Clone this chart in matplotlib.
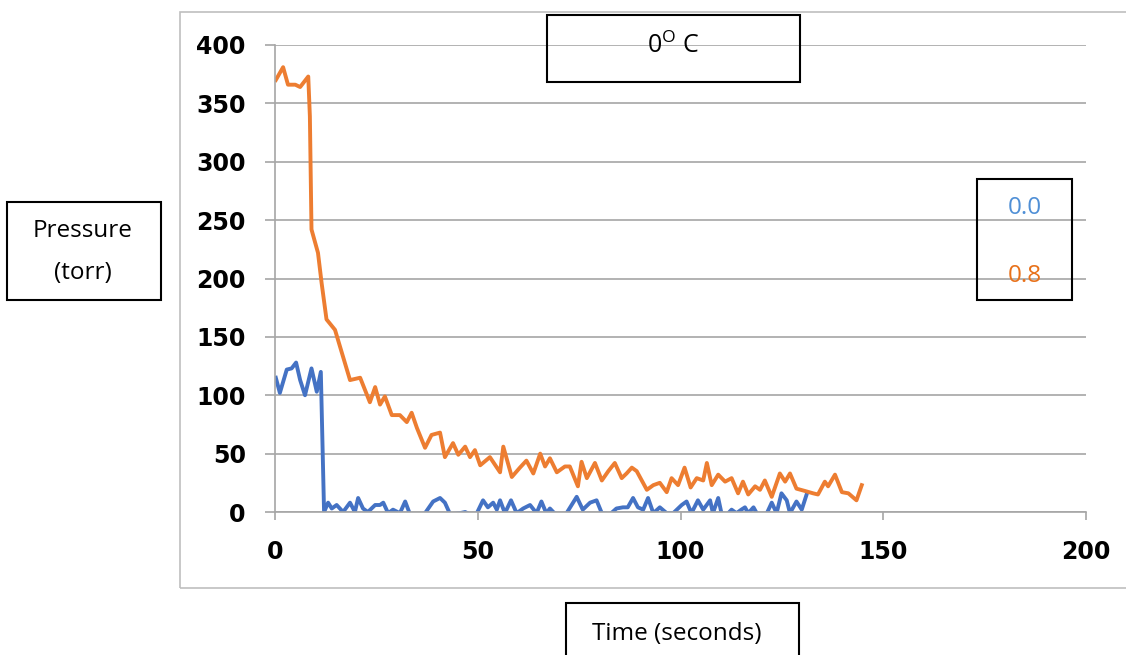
import matplotlib
matplotlib.use("Agg")
import matplotlib.pyplot as plt
from matplotlib.patches import Rectangle

plt.rcParams['font.family'] = ['Open Sans', 'DejaVu Sans']
plt.rcParams['mathtext.fontset'] = 'custom'
plt.rcParams['mathtext.rm'] = 'Open Sans'

# orange series (0.8)
t_orange = [0.2, 2, 3.2, 5, 6.2, 8.2, 8.6, 9, 10.6, 11.5, 12.7, 14.8, 18.5, 21, 23.4, 24.7,
            25.9, 27.1, 28.8, 30.8, 32.5, 33.7, 35, 37, 38.6, 40.7, 41.9, 43.9, 45.2, 46.9,
            48.1, 49.3, 50.6, 53, 55.5, 56.3, 58.4, 60.4, 62, 63.7, 65.4, 66.6, 67.8, 69.5,
            71.5, 72.7, 74.7, 75.6, 76.9, 78.9, 80.6, 82.2, 83.8, 85.5, 86.7, 88, 89.2, 91.7,
            93.3, 94.9, 96.6, 97.8, 99.4, 101, 102.5, 104, 105.6, 106.5, 107.7, 109.3, 111,
            112.6, 114.2, 115.4, 116.7, 118.4, 119.6, 120.8, 122.5, 124.5, 125.8, 127, 128.6,
            130.7, 132.7, 133.9, 135.6, 136.4, 138.1, 139.8, 141.4, 143.4, 144.7]
p_orange = [370, 381, 366, 366, 364, 373, 339, 242, 222, 196, 165, 156, 113, 115, 94, 107,
            92, 99, 83, 83, 77, 85, 72, 55, 66, 68, 47, 59, 49, 56,
            47, 53, 40, 47, 34, 56, 30, 38, 44, 33, 50, 39, 46, 34,
            39, 39, 22, 43, 29, 42, 27, 35, 42, 29, 33, 38, 35, 19,
            23, 25, 17, 29, 23, 38, 21, 29, 27, 42, 23, 32, 26,
            29, 16, 26, 15, 22, 19, 27, 13, 33, 26, 33, 20,
            18, 16, 15, 26, 22, 32, 17, 16, 10, 23]

# blue series (0.0)
t_blue = [0.2, 1.2, 2.9, 4.1, 5.2, 6.2, 7.4, 9, 10.3, 11.3, 12.1, 13.1, 14, 15.2, 16.8, 18.5,
          19.7, 20.5, 21.7, 22.9, 24.7, 25.9, 26.7, 27.9, 29.1, 30.8, 32.1, 33.3, 35, 37,
          39, 40.7, 41.9, 43.2, 45.6, 46.9, 48, 49.5, 51.3, 52.5, 53.8, 54.7, 55.5, 56.7,
          58.2, 59.6, 61.2, 62.9, 64.5, 65.7, 66.9, 67.8, 68.9, 70.5, 71.9, 74.4, 75.9,
          77.7, 79.3, 80.6, 82.6, 84.2, 85.8, 87, 88.3, 89.5, 90.8, 92, 93.3, 94.9, 96.6,
          98.2, 100.3, 101.5, 102.7, 104.3, 105.6, 107.3, 108, 109.3, 110.1, 111.5, 112.6,
          113.8, 115, 115.9, 116.7, 118, 118.8, 120, 121.3, 122.5, 123.7, 124.9, 126.2,
          127, 128.6, 129.9, 131.1]
p_blue = [115, 102, 122, 123, 128, 113, 100, 123, 103, 120, 0, 8, 3, 6, 0, 8,
          0, 12, 3, 0, 6, 6, 8, -1, 2, -1, 9, -2, -4, -1,
          9, 12, 8, -2, -1, 0, -2, -3, 10, 4, 8, 2, 10, -1,
          10, -1, 3, 6, -1, 9, -1, 3, -1, -3, -1, 13, 2,
          8, 10, -1, -2, 3, 4, 4, 12, 4, 2, 12, -1, 4, -1,
          -1, 6, 9, -1, 10, 2, 10, -1, 12, -1, -2, 2,
          -1, 2, 4, -1, 4, -1, -3, -1, 8, -1, 16, 10,
          -1, 9, 2, 15]

x_ticks = [0, 50, 100, 150, 200]
y_ticks = [0, 50, 100, 150, 200, 250, 300, 350, 400]

W, H = 1126, 655
fig = plt.figure(figsize=(W / 100, H / 100), dpi=100)


def box(x0, y0, x1, y1, color='black', lw=1.5):
    r = Rectangle((x0 / W, 1 - y1 / H), (x1 - x0) / W, (y1 - y0) / H,
                  transform=fig.transFigure, fill=False, edgecolor=color, linewidth=lw)
    fig.add_artist(r)


def label(x, y, s, **kw):
    fig.text(x / W, 1 - y / H, s, ha='center', va='center', **kw)


# outer chart border
box(180, 12, 1130, 588, color='#bfbfbf', lw=1.2)

ax = fig.add_axes([275 / W, 1 - 512 / H, 811 / W, 467 / H])
grid_c = '#a6a6a6'
ax.plot(t_blue, p_blue, color='#4472C4', lw=2.8, solid_joinstyle='round')
ax.plot(t_orange, p_orange, color='#ED7D31', lw=2.8, solid_joinstyle='round')
ax.set_xlim(0, 200)
ax.set_ylim(0, 400)
ax.set_xticks(x_ticks)
ax.set_yticks(y_ticks)
ax.grid(axis='y', color=grid_c, lw=1.2)
ax.set_axisbelow(True)
for s in ['top', 'right']:
    ax.spines[s].set_visible(False)
for s in ['left', 'bottom']:
    ax.spines[s].set_color(grid_c)
    ax.spines[s].set_linewidth(1.2)
ax.tick_params(axis='y', direction='out', length=7, width=1.2, color=grid_c, pad=14)
ax.tick_params(axis='x', direction='out', length=6, width=1.2, color=grid_c, pad=14)
for lab in ax.get_xticklabels() + ax.get_yticklabels():
    lab.set_fontsize(17)
    lab.set_fontweight('bold')
    lab.set_family('DejaVu Sans')

# title box
box(547, 15, 800, 82)
label(673, 46, '0$^{\\mathregular{O}}$ C', fontsize=18)

# y label box
box(7, 202, 161, 300)
label(83, 231, 'Pressure', fontsize=17.5)
label(83, 273, '(torr)', fontsize=17.5)

# legend box
box(977, 179, 1072, 300)
label(1025, 208, '0.0', fontsize=17.5, color='#4f8fd6')
label(1025, 276, '0.8', fontsize=17.5, color='#e8711a')

# x label box
box(566, 603, 799, 670)
label(677, 634, 'Time (seconds)', fontsize=17.5)

fig.savefig('out.png', dpi=100)
